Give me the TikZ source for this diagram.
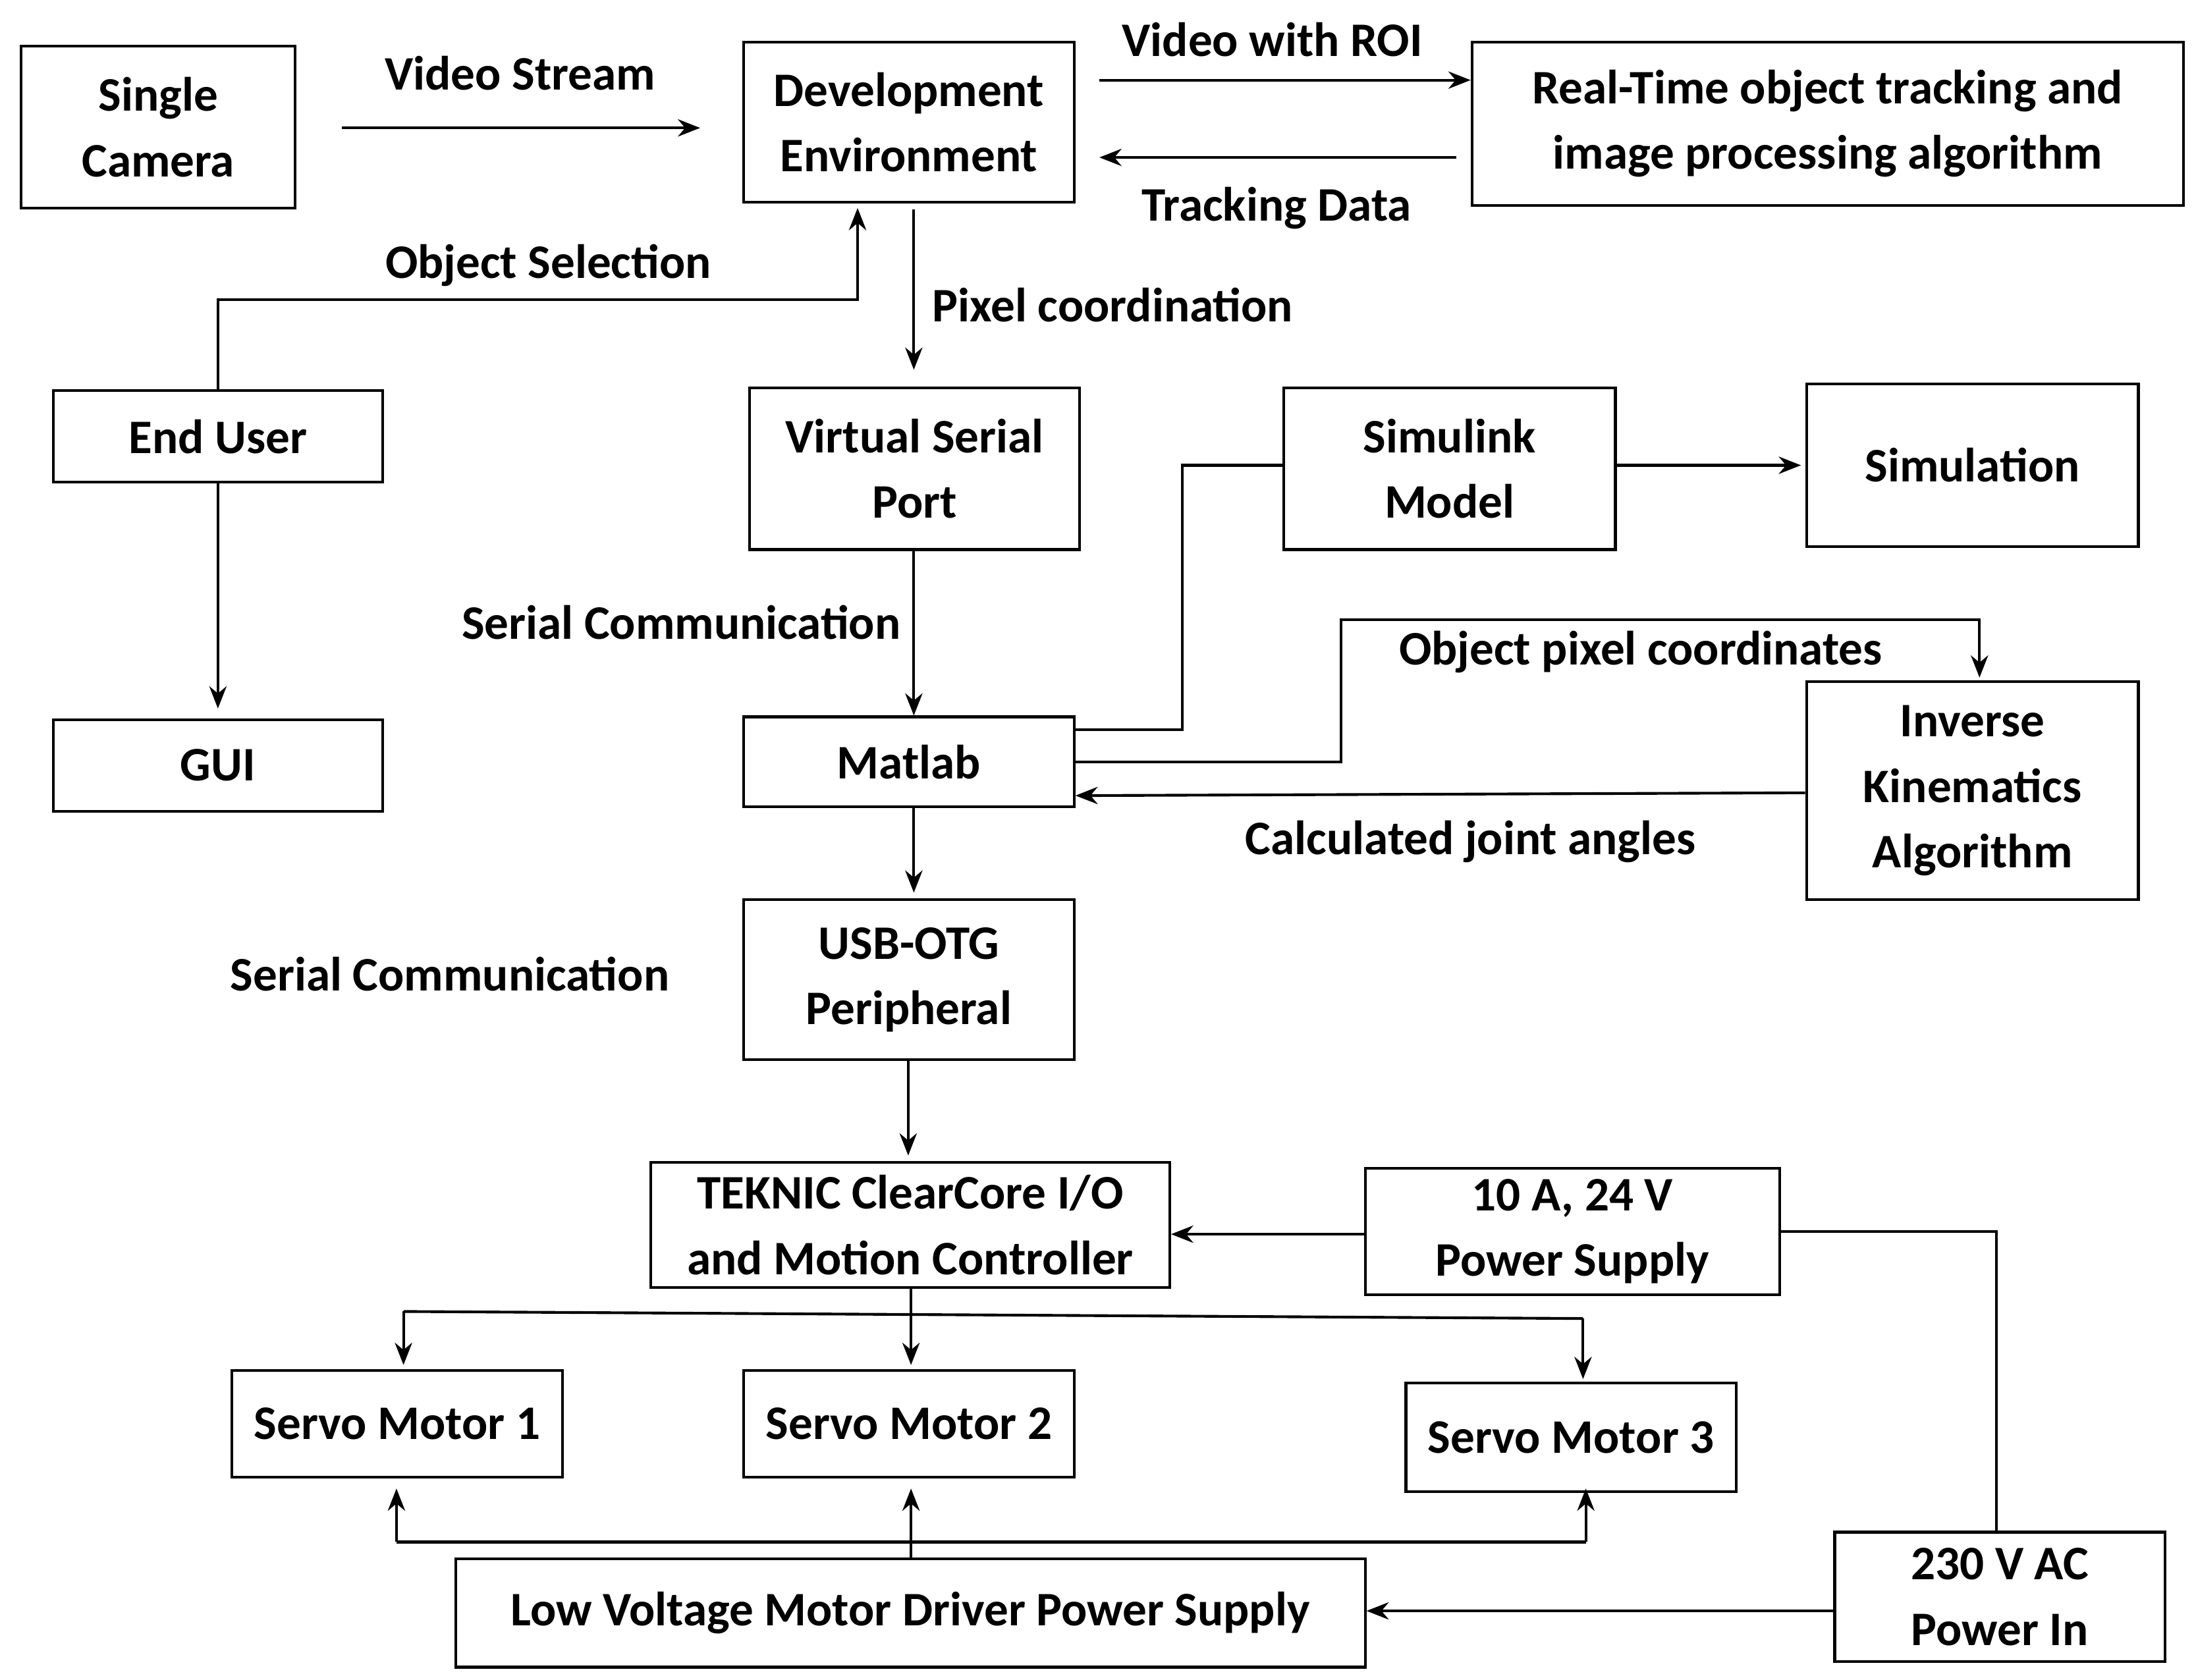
\documentclass[tikz,border=0pt]{standalone}
\usepackage{fontspec}
\setmainfont{Carlito}
\usetikzlibrary{arrows.meta,calc}
\begin{document}
\begin{tikzpicture}[x=0.02cm,y=-0.02cm,
  box/.style={draw,line width=1.1pt,align=center,inner sep=0pt,font=\fontsize{19.5}{26.5}\selectfont\bfseries},
  lbl/.style={font=\fontsize{19.5}{26.5}\selectfont\bfseries,inner sep=0pt},
  ln/.style={line width=1.1pt},
  ar/.style={line width=1.1pt,-{Stealth[length=9pt,width=7pt]}}]
\useasboundingbox (0,0) rectangle (1562,1195);
\newcommand\bx[6]{\node[box,minimum width={(#4-#2)*0.02cm},minimum height={(#5-#3)*0.02cm}] (#1) at ({(#2+#4)/2},{(#3+#5)/2}) {#6};}
\bx{cam}{15}{33}{210}{148}{Single\\Camera}
\bx{dev}{529}{30}{764}{144}{Development\\Environment}
\bx{rt}{1047}{30}{1553}{146}{Real-Time object tracking and\\image processing algorithm}
\bx{eu}{38}{278}{272}{343}{End User}
\bx{gui}{38}{512}{272}{577}{GUI}
\bx{vsp}{533}{276}{768}{391}{Virtual Serial\\Port}
\bx{sim}{913}{276}{1149}{391}{Simulink\\Model}
\bx{simu}{1285}{273}{1521}{389}{Simulation}
\bx{mat}{529}{510}{764}{574}{Matlab}
\bx{ik}{1285}{485}{1521}{640}{Inverse\\Kinematics\\Algorithm}
\bx{usb}{529}{640}{764}{754}{USB-OTG\\Peripheral}
\bx{tek}{463}{827}{832}{916}{TEKNIC ClearCore I/O\\and Motion Controller}
\bx{ps}{971}{831}{1266}{921}{10 A, 24 V\\Power Supply}
\bx{s1}{165}{975}{400}{1051}{Servo Motor 1}
\bx{s2}{529}{975}{764}{1051}{Servo Motor 2}
\bx{s3}{1000}{984}{1235}{1061}{Servo Motor 3}
\bx{lv}{324}{1109}{971}{1186}{Low Voltage Motor Driver Power Supply}
\bx{ac}{1305}{1090}{1540}{1182}{230 V AC\\Power In}
% labels
\node[lbl] at (370,52) {Video Stream};
\node[lbl] at (905,28) {Video with ROI};
\node[lbl] at (908,148) {Tracking Data};
\node[lbl] at (390,189) {Object Selection};
\node[lbl,anchor=west] at (663,217) {Pixel coordination};
\node[lbl,anchor=east] at (641,443) {Serial Communication};
\node[lbl] at (1167,464) {Object pixel coordinates};
\node[lbl] at (1046,599) {Calculated joint angles};
\node[lbl] at (320,693) {Serial Communication};
% connectors
\coordinate (vs1) at (243,91); \coordinate (vs2) at (498,91);
\draw[ar] (vs1) -- (vs2);
\draw[ar] (dev.east|-0,57) ++(17,0) -- (rt.west|-0,57) ;
\draw[ar] ($(rt.west|-0,112)+(-10,0)$) -- ($(dev.east|-0,112)+(17,0)$);
\draw[ar] (eu.north-|155,0) -- (155,213) -- (610,213) -- ($(dev.south-|610,0)+(0,3)$);
\draw[ar] (dev.south-|650,0) ++(0,4) -- ($(vsp.north-|650,0)+(0,-12)$);
\draw[ar] (vsp.south-|650,0) -- (mat.north-|650,0);
\draw[ar] (eu.south-|155,0) -- ($(gui.north-|155,0)+(0,-7)$);
\draw[ln] (mat.east|-0,519) -- (841,519) -- (841,331) -- (sim.west|-0,331);
\draw[ar] (sim.east|-0,331) -- ($(simu.west|-0,331)+(-3,0)$);
\draw[ar] (mat.east|-0,542) -- (954,542) -- (954,441) -- (1408,441) -- ($(ik.north-|1408,0)+(0,-2)$);
\draw[ar] (ik.west|-0,564) -- (mat.east|-0,566);
\draw[ar] (mat.south-|650,0) -- ($(usb.north-|650,0)+(0,-4)$);
\draw[ar] (usb.south-|646,0) -- ($(tek.north-|646,0)+(0,-4)$);
\draw[ar] (ps.west|-0,878) -- (tek.east|-0,878);
\draw[ln] (ps.east|-0,876) -- (1420,876) -- (ac.north-|1420,0);
\draw[ar] (ac.west|-0,1146) -- (lv.east|-0,1146);
\draw[ar] (tek.south-|648,0) -- ($(s2.north-|648,0)+(0,-3)$);
\draw[ln] (287,933) -- (1126,938);
\draw[ar] (287,933) -- ($(s1.north-|287,0)+(0,-3)$);
\draw[ar] (1126,938) -- ($(s3.north-|1126,0)+(0,-2)$);
\draw[ar] (lv.north-|648,0) -- ($(s2.south-|648,0)+(0,7)$);
\draw[ln] (282,1097) -- (1128,1097);
\draw[ar] (282,1097) -- ($(s1.south-|282,0)+(0,7)$);
\draw[ar] (1128,1097) -- ($(s3.south-|1128,0)+(0,-3)$);
\end{tikzpicture}
\end{document}
